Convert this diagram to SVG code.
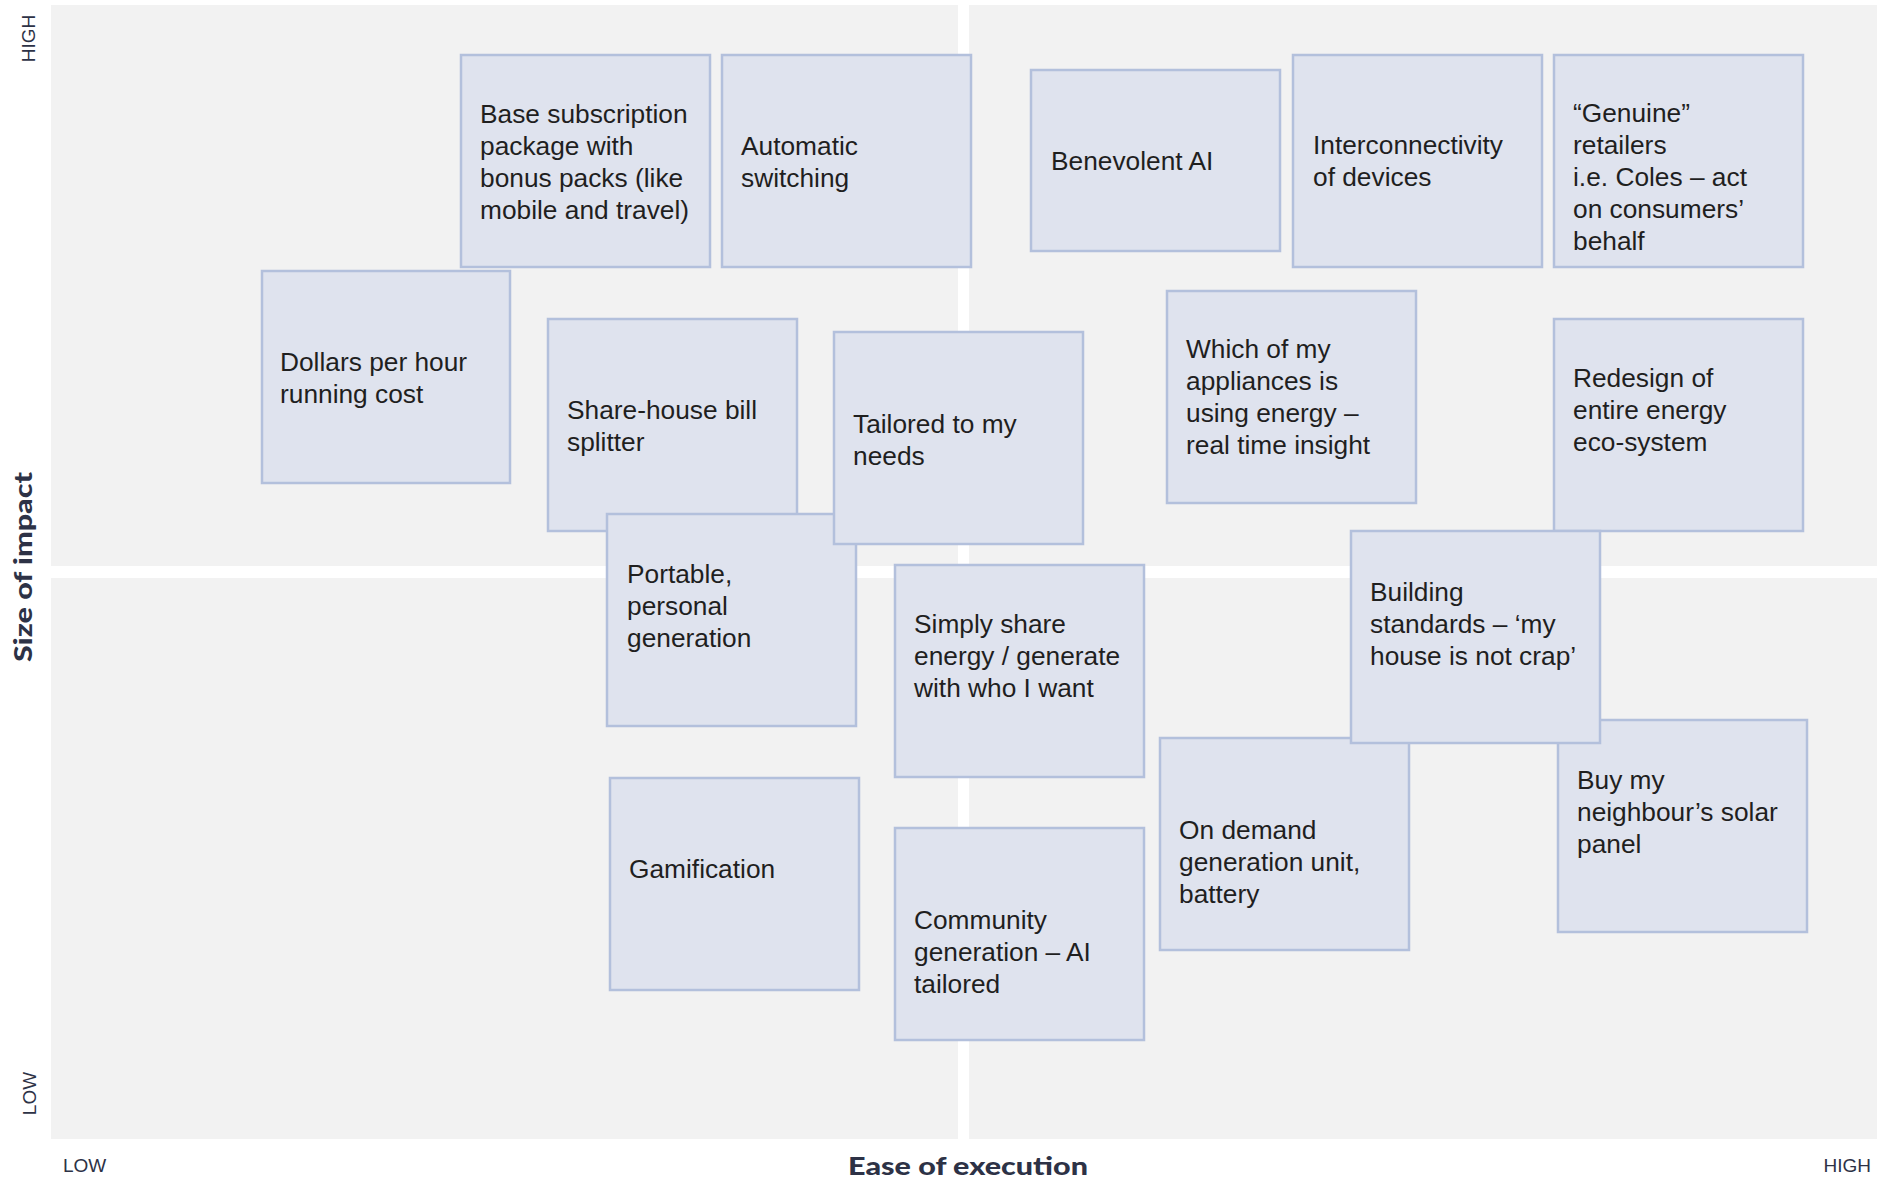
<svg xmlns="http://www.w3.org/2000/svg" width="1885" height="1179" viewBox="0 0 1885 1179">
<style>
.bg{fill:#ffffff}
.quad{fill:#f2f2f2}
.card{fill:#dfe3ee;stroke:#b3c0dc;stroke-width:2.5}
.t{font-family:"Liberation Sans",Arial,sans-serif;font-size:26.3px;fill:#1f1f1f}
.ax{font-family:"Liberation Sans",Arial,sans-serif;font-size:19px;fill:#2d3246}
.axb{font-family:Lato,"Open Sans",sans-serif;font-weight:900;font-size:25px;fill:#2d3246}
</style>
<rect class="bg" x="0" y="0" width="1885" height="1179"/>
<g id="quadrants">
<rect class="quad" x="51" y="5" width="907" height="561"/>
<rect class="quad" x="969" y="5" width="908" height="561"/>
<rect class="quad" x="51" y="578" width="907" height="561"/>
<rect class="quad" x="969" y="578" width="908" height="561"/>
</g>
<g id="axes">
<text class="ax" text-anchor="middle" transform="translate(35,38.5) rotate(-90)">HIGH</text>
<text class="ax" text-anchor="middle" transform="translate(36,1093.5) rotate(-90)">LOW</text>
<text class="axb" text-anchor="middle" textLength="190" lengthAdjust="spacingAndGlyphs" transform="translate(32,567) rotate(-90)">Size of impact</text>
<text class="ax" x="63" y="1172">LOW</text>
<text class="axb" x="968" y="1175" text-anchor="middle" textLength="240" lengthAdjust="spacingAndGlyphs">Ease of execution</text>
<text class="ax" x="1871" y="1172" text-anchor="end">HIGH</text>
</g>
<g id="connectors"/>
<g id="node-base"><rect class="card" x="461" y="55" width="249" height="212"/>
<text class="t" x="480"><tspan x="480" y="123">Base subscription</tspan><tspan x="480" y="155">package with</tspan><tspan x="480" y="187">bonus packs (like</tspan><tspan x="480" y="219">mobile and travel)</tspan></text></g>
<g id="node-auto"><rect class="card" x="722" y="55" width="249" height="212"/>
<text class="t"><tspan x="741" y="155">Automatic</tspan><tspan x="741" y="187">switching</tspan></text></g>
<g id="node-benevolent"><rect class="card" x="1031" y="70" width="249" height="181"/>
<text class="t" x="1051" y="170">Benevolent AI</text></g>
<g id="node-inter"><rect class="card" x="1293" y="55" width="249" height="212"/>
<text class="t"><tspan x="1313" y="154">Interconnectivity</tspan><tspan x="1313" y="186">of devices</tspan></text></g>
<g id="node-genuine"><rect class="card" x="1554" y="55" width="249" height="212"/>
<text class="t"><tspan x="1573" y="121.5">“Genuine”</tspan><tspan x="1573" y="153.5">retailers</tspan><tspan x="1573" y="185.5">i.e. Coles – act</tspan><tspan x="1573" y="217.5">on consumers’</tspan><tspan x="1573" y="249.5">behalf</tspan></text></g>
<g id="node-dollars"><rect class="card" x="262" y="271" width="248" height="212"/>
<text class="t"><tspan x="280" y="371">Dollars per hour</tspan><tspan x="280" y="403">running cost</tspan></text></g>
<g id="node-share"><rect class="card" x="548" y="319" width="249" height="212"/>
<text class="t"><tspan x="567" y="419">Share-house bill</tspan><tspan x="567" y="451">splitter</tspan></text></g>
<g id="node-portable"><rect class="card" x="607" y="514" width="249" height="212"/>
<text class="t"><tspan x="627" y="582.5">Portable,</tspan><tspan x="627" y="614.5">personal</tspan><tspan x="627" y="646.5">generation</tspan></text></g>
<g id="node-tailored"><rect class="card" x="834" y="332" width="249" height="212"/>
<text class="t"><tspan x="853" y="432.5">Tailored to my</tspan><tspan x="853" y="464.5">needs</tspan></text></g>
<g id="node-which"><rect class="card" x="1167" y="291" width="249" height="212"/>
<text class="t"><tspan x="1186" y="358">Which of my</tspan><tspan x="1186" y="390">appliances is</tspan><tspan x="1186" y="422">using energy –</tspan><tspan x="1186" y="454">real time insight</tspan></text></g>
<g id="node-redesign"><rect class="card" x="1554" y="319" width="249" height="212"/>
<text class="t"><tspan x="1573" y="387">Redesign of</tspan><tspan x="1573" y="419">entire energy</tspan><tspan x="1573" y="451">eco-system</tspan></text></g>
<g id="node-simply"><rect class="card" x="895" y="565" width="249" height="212"/>
<text class="t"><tspan x="914" y="633">Simply share</tspan><tspan x="914" y="665">energy / generate</tspan><tspan x="914" y="697">with who I want</tspan></text></g>
<g id="node-gamification"><rect class="card" x="610" y="778" width="249" height="212"/>
<text class="t" x="629" y="878">Gamification</text></g>
<g id="node-community"><rect class="card" x="895" y="828" width="249" height="212"/>
<text class="t"><tspan x="914" y="929">Community</tspan><tspan x="914" y="961">generation – AI</tspan><tspan x="914" y="993">tailored</tspan></text></g>
<g id="node-ondemand"><rect class="card" x="1160" y="738" width="249" height="212"/>
<text class="t"><tspan x="1179" y="838.5">On demand</tspan><tspan x="1179" y="870.5">generation unit,</tspan><tspan x="1179" y="902.5">battery</tspan></text></g>
<g id="node-buy"><rect class="card" x="1558" y="720" width="249" height="212"/>
<text class="t"><tspan x="1577" y="788.5">Buy my</tspan><tspan x="1577" y="820.5">neighbour’s solar</tspan><tspan x="1577" y="852.5">panel</tspan></text></g>
<g id="node-building"><rect class="card" x="1351" y="531" width="249" height="212"/>
<text class="t"><tspan x="1370" y="601">Building</tspan><tspan x="1370" y="633">standards – ‘my</tspan><tspan x="1370" y="665">house is not crap’</tspan></text></g>
</svg>
